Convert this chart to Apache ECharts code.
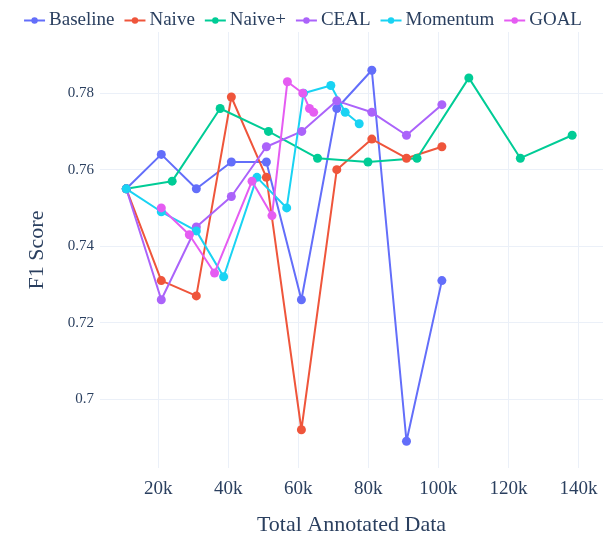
<!DOCTYPE html>
<html>
<head>
<meta charset="utf-8">
<script src="https://cdn.jsdelivr.net/npm/echarts@6/dist/echarts.min.js"></script>
<style>
  html, body { margin: 0; padding: 0; background: #fff; }
  #chart { width: 605px; height: 541px; }
</style>
</head>
<body>
<div id="chart"></div>
<script>
// annotated data in thousands
const seriesNames = ["Baseline", "Naive", "Naive+", "CEAL", "Momentum", "GOAL"];
const seriesColors = ["#636efa", "#ef553b", "#00cc96", "#ab63fa", "#19d3f3", "#e55cf2"];

const baselineX = [10.9, 20.9, 30.9, 40.9, 50.9, 60.9, 71, 81, 90.9, 101];
const baselineY = [0.755, 0.764, 0.755, 0.762, 0.762, 0.726, 0.776, 0.786, 0.689, 0.731];

const naiveX = [10.9, 20.9, 30.9, 40.9, 50.9, 60.9, 71, 81, 90.9, 101];
const naiveY = [0.755, 0.731, 0.727, 0.779, 0.758, 0.692, 0.760, 0.768, 0.763, 0.766];

const naivePlusX = [10.9, 24, 37.7, 51.5, 65.5, 79.9, 93.9, 108.7, 123.4, 138.2];
const naivePlusY = [0.755, 0.757, 0.776, 0.770, 0.763, 0.762, 0.763, 0.784, 0.763, 0.769];

const cealX = [10.9, 20.9, 30.9, 40.9, 50.9, 61, 71, 81, 90.9, 101];
const cealY = [0.755, 0.726, 0.745, 0.753, 0.766, 0.770, 0.778, 0.775, 0.769, 0.777];

const momentumX = [10.9, 20.9, 30.9, 38.7, 48.2, 56.7, 61.5, 69.3, 73.4, 77.4];
const momentumY = [0.755, 0.749, 0.744, 0.732, 0.758, 0.750, 0.780, 0.782, 0.775, 0.772];

const goalX = [20.9, 28.9, 36.1, 46.8, 52.5, 56.9, 61.3, 63.2, 64.4];
const goalY = [0.750, 0.743, 0.733, 0.757, 0.748, 0.783, 0.780, 0.776, 0.775];

const allX = [baselineX, naiveX, naivePlusX, cealX, momentumX, goalX];
const allY = [baselineY, naiveY, naivePlusY, cealY, momentumY, goalY];

const textColor = "#2a3f5f";
const serif = "Liberation Serif";

const chart = echarts.init(document.getElementById("chart"));

const option = {
  animation: false,
  color: seriesColors,
  legend: {
    top: 11,
    left: "center",
    padding: 0,
    itemWidth: 21,
    itemHeight: 8,
    itemGap: 9,
    textStyle: { fontFamily: serif, fontSize: 19, color: textColor, padding: [0, 0, 0, -1] },
    data: seriesNames,
  },
  grid: {
    left: 100,
    right: 2,
    top: 32,
    bottom: 71,
  },
  xAxis: {
    type: "value",
    min: 3.4,
    max: 147,
    splitNumber: 7,
    name: "Total Annotated Data",
    nameLocation: "middle",
    nameGap: 46,
    nameTextStyle: { fontFamily: serif, fontSize: 22, color: textColor },
    axisLine: { show: false },
    axisTick: { show: false },
    axisLabel: {
      showMinLabel: false,
      showMaxLabel: false,
      fontFamily: serif,
      fontSize: 19,
      color: textColor,
      margin: 12,
      formatter: (v) => v + "k",
    },
    splitLine: {
      show: true,
      showMinLine: false,
      showMaxLine: false,
      lineStyle: { color: "#ebf0f8", width: 1 },
    },
  },
  yAxis: {
    type: "value",
    min: 0.682,
    max: 0.796,
    splitNumber: 6,
    name: "F1 Score",
    nameLocation: "middle",
    nameGap: 52,
    nameTextStyle: { fontFamily: serif, fontSize: 22, color: textColor },
    axisLine: { show: false },
    axisTick: { show: false },
    axisLabel: {
      showMinLabel: false,
      showMaxLabel: false,
      fontFamily: serif,
      fontSize: 15,
      color: textColor,
      margin: 6,
      formatter: (v) => String(+v.toFixed(3)),
    },
    splitLine: {
      show: true,
      showMinLine: false,
      showMaxLine: false,
      lineStyle: { color: "#ebf0f8", width: 1 },
    },
  },
  series: seriesNames.map((name, i) => ({
    name: name,
    type: "line",
    symbol: "circle",
    symbolSize: 9,
    lineStyle: { width: 2 },
    data: allX[i].map((x, j) => [x, allY[i][j]]),
  })),
};

chart.setOption(option);
</script>
</body>
</html>
